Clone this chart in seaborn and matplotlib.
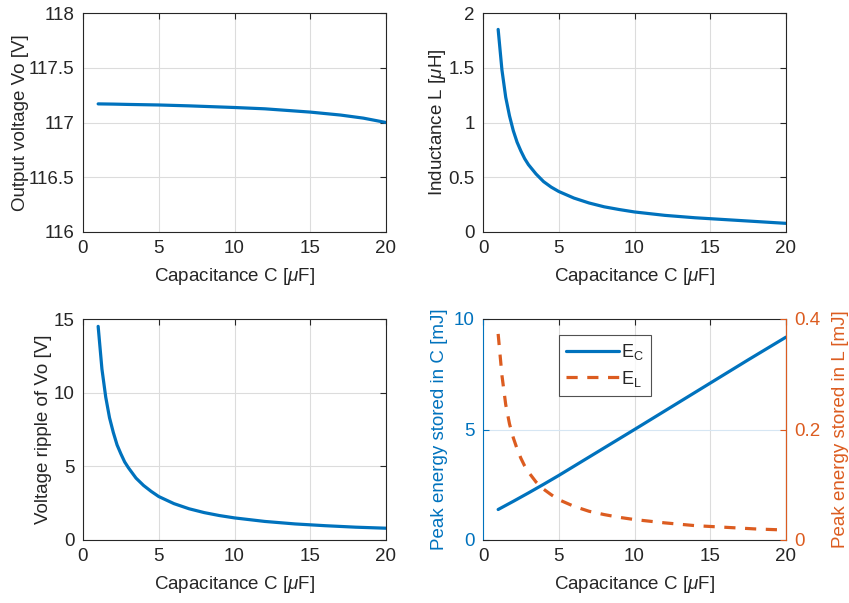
import numpy as np
import pandas as pd
import matplotlib
matplotlib.use("Agg")
import matplotlib.pyplot as plt
import seaborn as sns

# ---- data ----
C_vo = [1, 2, 3, 5, 7, 10, 12, 15, 17, 18.5, 20]
Vo = [117.17, 117.168, 117.165, 117.16, 117.152, 117.137, 117.125, 117.095, 117.068, 117.04, 117.00]

C_curve = [1, 1.25, 1.5, 1.75, 2, 2.25, 2.5, 2.75, 3, 3.5, 4, 4.5, 5, 6, 7, 8, 9, 10, 12, 14, 16, 18, 20]
L_uH = [1.85, 1.48, 1.23, 1.06, 0.925, 0.82, 0.74, 0.67, 0.615, 0.53, 0.46, 0.41, 0.37,
        0.31, 0.265, 0.23, 0.205, 0.183, 0.152, 0.13, 0.113, 0.096, 0.079]
ripple = [14.5, 11.6, 9.7, 8.3, 7.3, 6.45, 5.85, 5.3, 4.9, 4.2, 3.7, 3.3, 2.95,
          2.47, 2.12, 1.86, 1.66, 1.5, 1.26, 1.09, 0.97, 0.87, 0.80]
E_L = [0.373, 0.298, 0.245, 0.21, 0.185, 0.165, 0.148, 0.134, 0.123, 0.105, 0.092, 0.082, 0.073,
       0.061, 0.052, 0.046, 0.041, 0.037, 0.031, 0.026, 0.023, 0.020, 0.018]

C_ec = [1, 2, 3, 4, 5, 7.5, 10, 12.5, 15, 17.5, 20]
E_C = [1.38, 1.75, 2.13, 2.52, 2.92, 3.96, 5.0, 6.05, 7.1, 8.15, 9.18]

xlabel = r"Capacitance C [$\mathit{\mu}$F]"
BLUE = "#0072BD"
ORANGE = "#DC5C20"
DARK = "#262626"

sns.set_theme(style="white")
plt.rcParams["font.family"] = ["Liberation Sans", "DejaVu Sans"]
plt.rcParams["mathtext.fontset"] = "custom"
plt.rcParams["mathtext.rm"] = "Liberation Sans"
plt.rcParams["mathtext.it"] = "Liberation Sans:italic"
plt.rcParams["mathtext.default"] = "regular"
FS = 13.5

fig = plt.figure(figsize=(8.49, 6.03), dpi=100)
W, H = 849, 603

def mkax(x0, y0, x1, y1):
    return fig.add_axes([x0 / W, 1 - y1 / H, (x1 - x0) / W, (y1 - y0) / H])

ax1 = mkax(83, 13, 386, 232)
ax2 = mkax(483, 13, 786, 232)
ax3 = mkax(83, 319, 386, 540)
ax4 = mkax(483, 319, 786, 540)

def style(ax, grid_y=True):
    for s in ax.spines.values():
        s.set_color(DARK)
        s.set_linewidth(0.8)
    ax.tick_params(direction="in", length=4, width=0.8, colors=DARK,
                   labelsize=FS, top=True, right=True, labelcolor=DARK, pad=6)
    ax.grid(True, axis="x", color="#dcdcdc", linewidth=0.8)
    if grid_y:
        ax.grid(True, axis="y", color="#dcdcdc", linewidth=0.8)
    ax.set_xlim(0, 20)
    ax.set_xticks([0, 5, 10, 15, 20])
    ax.set_xlabel(xlabel, fontsize=FS, color=DARK, labelpad=6)

lw = 2.3

sns.lineplot(x=C_vo, y=Vo, ax=ax1, color=BLUE, linewidth=lw)
style(ax1)
ax1.set_ylim(116, 118)
ax1.set_yticks([116, 116.5, 117, 117.5, 118])
ax1.set_yticklabels(["116", "116.5", "117", "117.5", "118"])
ax1.set_ylabel("Output voltage Vo [V]", fontsize=FS, color=DARK, labelpad=0)

sns.lineplot(x=C_curve, y=L_uH, ax=ax2, color=BLUE, linewidth=lw)
style(ax2)
ax2.set_ylim(0, 2)
ax2.set_yticks([0, 0.5, 1, 1.5, 2])
ax2.set_yticklabels(["0", "0.5", "1", "1.5", "2"])
ax2.set_ylabel(r"Inductance L [$\mathit{\mu}$H]", fontsize=FS, color=DARK, labelpad=0)

sns.lineplot(x=C_curve, y=ripple, ax=ax3, color=BLUE, linewidth=lw)
style(ax3)
ax3.set_ylim(0, 15)
ax3.set_yticks([0, 5, 10, 15])
ax3.set_ylabel("Voltage ripple of Vo [V]", fontsize=FS, color=DARK, labelpad=1)

# bottom-right: two y axes
sns.lineplot(x=C_ec, y=E_C, ax=ax4, color=BLUE, linewidth=lw, label="E$_C$", legend=False)
style(ax4, grid_y=False)
ax4.grid(True, axis="y", color="#d6e6f3", linewidth=0.8)
ax4.set_ylim(0, 10)
ax4.set_yticks([0, 5, 10])
ax4.tick_params(axis="y", right=False, colors=BLUE, labelcolor=BLUE)
ax4.spines["left"].set_color(BLUE)
ax4.set_ylabel("Peak energy stored in C [mJ]", fontsize=FS, color=BLUE)

ax4b = ax4.twinx()
sns.lineplot(x=C_curve, y=E_L, ax=ax4b, color=ORANGE, linewidth=lw,
             linestyle=(0, (3.5, 3)), label="E$_L$", legend=False)
ax4b.set_ylim(0, 0.4)
ax4b.set_yticks([0, 0.2, 0.4])
ax4b.set_yticklabels(["0", "0.2", "0.4"])
for s in ax4b.spines.values():
    s.set_visible(False)
ax4b.spines["right"].set_visible(True)
ax4b.spines["right"].set_color(ORANGE)
ax4b.spines["right"].set_linewidth(0.8)
ax4b.tick_params(axis="y", direction="in", length=4, width=0.8, colors=ORANGE,
                 labelcolor=ORANGE, labelsize=FS, pad=6)
ax4b.set_ylabel("Peak energy stored in L [mJ]", fontsize=FS, color=ORANGE, labelpad=8)
ax4b.grid(False)

h1, l1 = ax4.get_legend_handles_labels()
h2, l2 = ax4b.get_legend_handles_labels()
leg = ax4b.legend(h1 + h2, l1 + l2, loc="upper left", bbox_to_anchor=(0.251, 0.927),
                  borderaxespad=0, fontsize=FS - 0.5, frameon=True, fancybox=False,
                  handlelength=2.9, borderpad=0.4, labelspacing=0.35, handletextpad=0.15)
leg.get_frame().set_edgecolor(DARK)
leg.get_frame().set_linewidth(0.8)
for t in leg.get_texts():
    t.set_color(DARK)

fig.savefig("out.png", dpi=100)
